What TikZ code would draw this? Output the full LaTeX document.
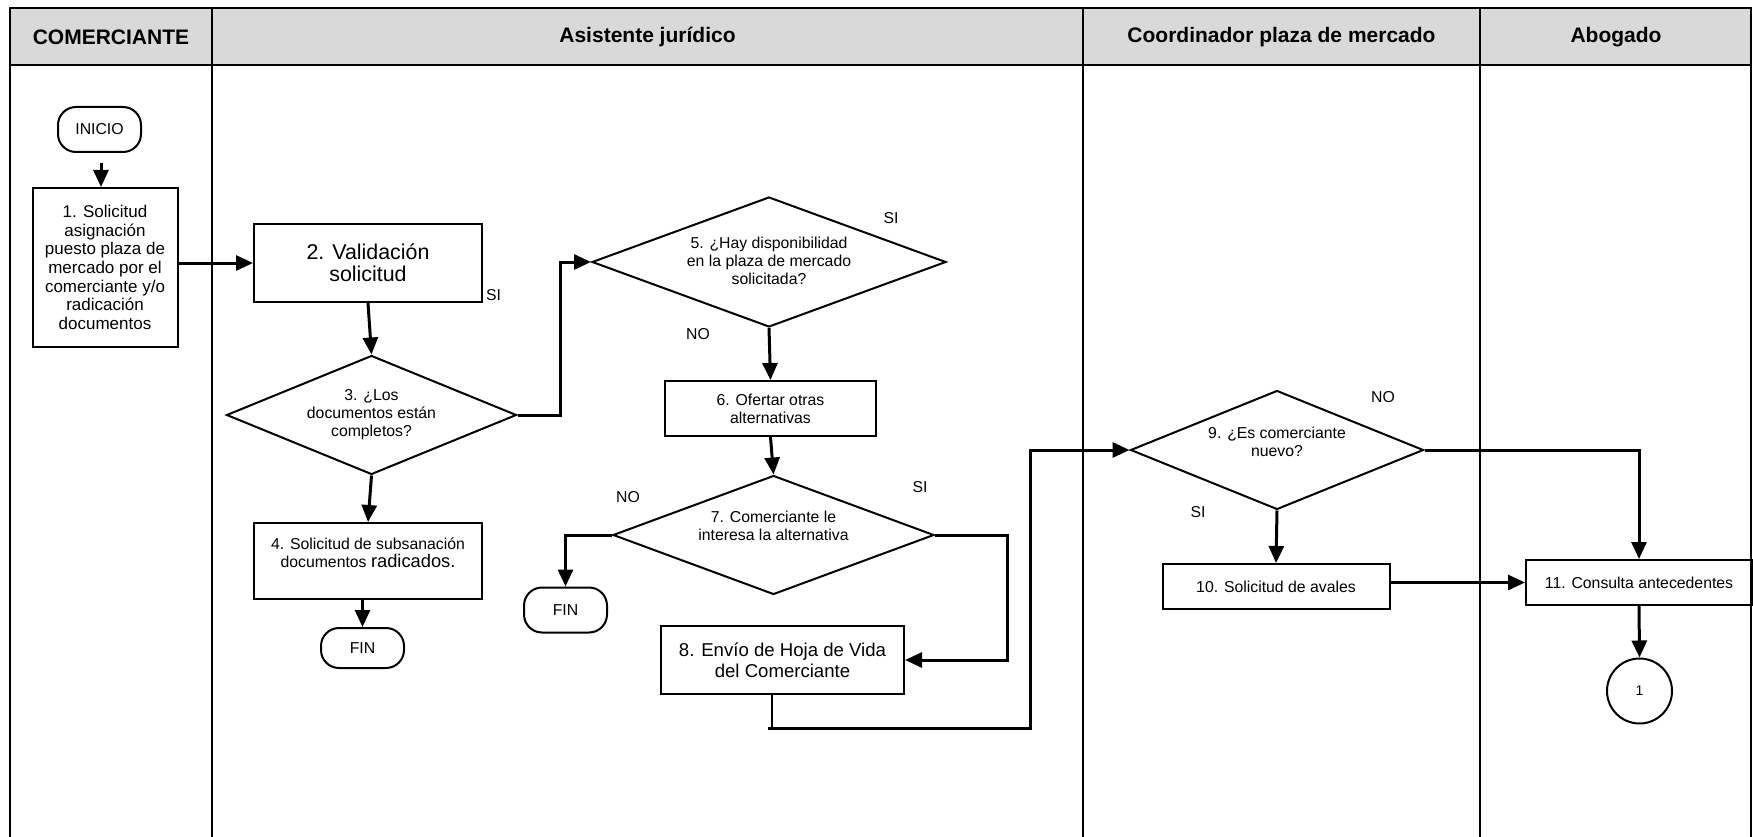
\documentclass[tikz,border=0pt]{standalone}
\usepackage{fontspec}
\setmainfont{Liberation Sans}
\usetikzlibrary{shapes.geometric,arrows.meta}
\definecolor{hdr}{HTML}{D9D9D9}
\tikzset{
  box/.style={draw, line width=2pt, rectangle, inner sep=0pt, align=center},
  term/.style={draw, line width=2pt, rectangle, rounded corners=18pt, inner sep=0pt},
  dec/.style={draw, line width=2pt, diamond, inner sep=0pt},
  txt/.style={align=center, inner sep=0pt},
  conn/.style={line width=3pt, -{Triangle[length=17pt,width=15pt]}},
  frameline/.style={line width=2.4pt},
  hfont/.style={font=\fontsize{21}{24}\selectfont\bfseries},
  bfont/.style={font=\fontsize{15.8}{18}\selectfont},
}
\begin{document}
\begin{tikzpicture}[x=1pt,y=-1pt]
\useasboundingbox (0,0) rectangle (1753,837);
% header and lanes
\fill[hdr] (10,8) rectangle (1751,65);
\draw[frameline] (10,837) -- (10,8) -- (1751,8) -- (1751,837);
\draw[frameline] (10,65) -- (1751,65);
\draw[frameline] (212,8) -- (212,837);
\draw[frameline] (1083,8) -- (1083,837);
\draw[frameline] (1480,8) -- (1480,837);
\node[hfont] (h1) at (111,37) {COMERCIANTE};
\node[hfont] (h2) at (647.5,37) {Asistente jurídico};
\node[hfont] (h3) at (1281.5,37) {Coordinador plaza de mercado};
\node[hfont] (h4) at (1616,37) {Abogado};
% nodes
\node[term, minimum width=83, minimum height=45, bfont] (inicio) at (99.5,129.5) {INICIO};
\node[box, minimum width=145, minimum height=159, font=\fontsize{17}{18.6}\selectfont] (b1) at (105,267.5) {1. Solicitud\\asignación\\puesto plaza de\\mercado por el\\comerciante y/o\\radicación\\documentos};
\node[box, minimum width=228, minimum height=78, font=\fontsize{21.4}{21.7}\selectfont] (b2) at (368,263) {2. Validación\\solicitud};
\node[bfont, anchor=west, inner sep=0pt] (si1) at (486,295) {SI};
\node[dec, minimum width=290, minimum height=119] (d3) at (371.5,415) {};
\node[txt, bfont] (d3t) at (371.5,415) {3. ¿Los\\documentos están\\completos?};
\node[box, minimum width=228, minimum height=76] (b4) at (368,561) {};
\node[txt, bfont] (b4t) at (368,553) {4. Solicitud de subsanación\\documentos {\fontsize{18.3}{20}\selectfont radicados.}};
\node[term, minimum width=83, minimum height=40, bfont] (fin1) at (362.5,648) {FIN};
\node[dec, minimum width=354, minimum height=130] (d5) at (769,262) {};
\node[txt, bfont] (d5t) at (769,261) {5. ¿Hay disponibilidad\\en la plaza de mercado\\solicitada?};
\node[bfont, inner sep=0pt] (si2) at (891,218) {SI};
\node[bfont, inner sep=0pt] (no1) at (698,334) {NO};
\node[box, minimum width=211, minimum height=55, bfont] (b6) at (770.5,408.5) {6. Ofertar otras\\alternativas};
\node[dec, minimum width=321, minimum height=119] (d7) at (773.5,535) {};
\node[txt, bfont] (d7t) at (773.5,526) {7. Comerciante le\\interesa la alternativa};
\node[bfont, inner sep=0pt] (no2) at (628,497) {NO};
\node[bfont, inner sep=0pt] (si3) at (920,487) {SI};
\node[term, minimum width=83, minimum height=45, bfont] (fin2) at (565.5,610) {FIN};
\node[box, minimum width=243, minimum height=68, font=\fontsize{18.6}{21}\selectfont] (b8) at (782.5,660) {8. Envío de Hoja de Vida\\del Comerciante};
\node[dec, minimum width=293, minimum height=119] (d9) at (1277,450) {};
\node[txt, bfont] (d9t) at (1277,442) {9. ¿Es comerciante\\nuevo?};
\node[bfont, inner sep=0pt] (no3) at (1383,397) {NO};
\node[bfont, inner sep=0pt] (si4) at (1198,512) {SI};
\node[box, minimum width=227, minimum height=45, bfont] (b10) at (1276,586.5) {10. Solicitud de avales};
\node[box, minimum width=226, minimum height=45, bfont] (b11) at (1639,582.5) {11. Consulta antecedentes};
\node[draw, circle, line width=2pt, minimum size=65, inner sep=0pt, font=\fontsize{14}{16}\selectfont] (k1) at (1639.5,691) {1};
% connectors
\coordinate (a0) at (101,163);
\draw[conn] (a0) -- (a0 |- b1.north);
\draw[conn] (b1.east |- b2.west) -- (b2.west);
\draw[conn] (b2.south) -- (d3.north);
\draw[conn] (d3.south) -- (b4.north);
\draw[conn] (fin1.north |- b4.south) -- (fin1.north);
\draw[conn] (d3.east) -- ++(43.4,0) |- (d5.west);
\draw[conn] (d5.south) -- (b6.north);
\draw[conn] (b6.south) -- (d7.north);
\draw[conn] (d7.west) -| (fin2.north);
\draw[conn] (d7.east) -- ++(72,0) |- (b8.east);
\coordinate (c0) at (772,728);
\coordinate (c1) at (1030,728);
\draw[line width=1.5pt] (c0 |- b8.south) -- (c0);
\draw[conn] ([xshift=-4pt]c0) -- (c1) |- (d9.west);
\draw[conn] (d9.south) -- (b10.north);
\draw[conn] (d9.east) -| (b11.north);
\draw[conn] (b11.west -| b10.east) -- (b11.west);
\draw[conn] (b11.south) -- (k1.north);
\end{tikzpicture}
\end{document}
